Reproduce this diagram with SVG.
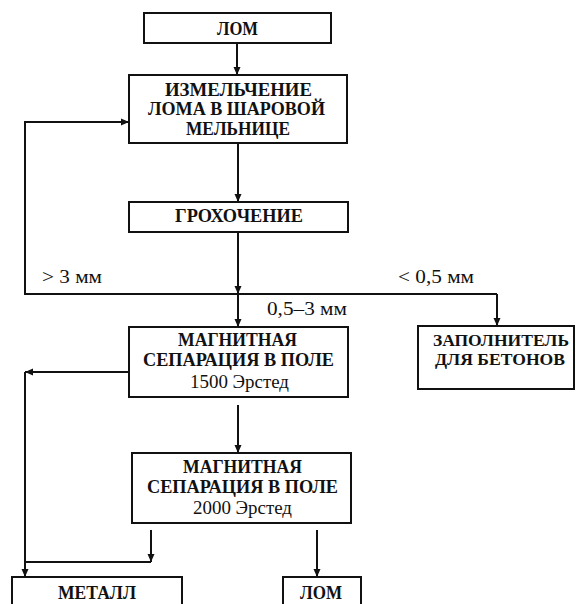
<svg xmlns="http://www.w3.org/2000/svg" width="576" height="604" viewBox="0 0 576 604">
<style>
.box{fill:#fff;stroke:#111;stroke-width:2}
.t{font-family:"Liberation Serif","Times New Roman",serif;font-size:19px;font-weight:bold;fill:#111;text-anchor:middle}
.n{font-weight:normal}
.s{font-size:17px}
.l{font-family:"Liberation Serif","Times New Roman",serif;font-size:19px;fill:#111}
.c{fill:none;stroke:#111;stroke-width:2}
</style>
<defs>
<marker id="ah" markerWidth="10" markerHeight="10" refX="9" refY="5" orient="auto" markerUnits="userSpaceOnUse">
<path d="M1,1.5 L9,5 L1,8.5 Z" fill="#111"/>
</marker>
</defs>
<rect width="576" height="604" fill="#fff"/>
<g id="connectors">
<path class="c" d="M237,43 V75" marker-end="url(#ah)"/>
<path class="c" d="M238,143 V202" marker-end="url(#ah)"/>
<path class="c" d="M238,232 V294" marker-end="url(#ah)"/>
<path class="c" d="M238,294 V327" marker-end="url(#ah)"/>
<path class="c" d="M497,294 H25 V122 H129" marker-end="url(#ah)"/>
<path class="c" d="M497,294 V326" marker-end="url(#ah)"/>
<path class="c" d="M238,405 V453" marker-end="url(#ah)"/>
<path class="c" d="M129,372 H25" marker-end="url(#ah)"/>
<path class="c" d="M25,372 V577" marker-end="url(#ah)"/>
<path class="c" d="M25,562 H151"/>
<path class="c" d="M151,530 V562" marker-end="url(#ah)"/>
<path class="c" d="M317,530 V577" marker-end="url(#ah)"/>
</g>
<g id="lom-top"><rect class="box" x="144" y="13" width="187" height="30"/><text class="t" x="237.5" y="35" textLength="41" lengthAdjust="spacingAndGlyphs">ЛОМ</text></g>
<g id="izmelchenie"><rect class="box" x="129" y="75" width="218" height="68"/>
<text class="t" x="238.5" y="96" textLength="147" lengthAdjust="spacingAndGlyphs">ИЗМЕЛЬЧЕНИЕ</text>
<text class="t" x="236.5" y="115" textLength="177" lengthAdjust="spacingAndGlyphs">ЛОМА В ШАРОВОЙ</text>
<text class="t" x="238" y="135" textLength="104" lengthAdjust="spacingAndGlyphs">МЕЛЬНИЦЕ</text></g>
<g id="grokhochenie"><rect class="box" x="129" y="202" width="219" height="30"/><text class="t" x="239" y="222" textLength="128" lengthAdjust="spacingAndGlyphs">ГРОХОЧЕНИЕ</text></g>
<g id="labels">
<text class="l" x="42" y="283" textLength="60" lengthAdjust="spacingAndGlyphs">&gt; 3 мм</text>
<text class="l" x="398" y="283" textLength="76" lengthAdjust="spacingAndGlyphs">&lt; 0,5 мм</text>
<text class="l" x="267" y="315" textLength="80" lengthAdjust="spacingAndGlyphs">0,5–3 мм</text>
</g>
<g id="mag1"><rect class="box" x="129" y="327" width="219" height="70"/>
<text class="t" x="237.5" y="346" textLength="119" lengthAdjust="spacingAndGlyphs">МАГНИТНАЯ</text>
<text class="t" x="238.5" y="366" textLength="191" lengthAdjust="spacingAndGlyphs">СЕПАРАЦИЯ В ПОЛЕ</text>
<text class="t n" x="239.5" y="388" textLength="99" lengthAdjust="spacingAndGlyphs">1500 Эрстед</text></g>
<g id="zapolnitel"><rect class="box" x="418" y="326" width="156" height="63"/>
<text class="t s" x="501" y="346" textLength="136" lengthAdjust="spacingAndGlyphs">ЗАПОЛНИТЕЛЬ</text>
<text class="t s" x="500" y="365" textLength="130" lengthAdjust="spacingAndGlyphs">ДЛЯ БЕТОНОВ</text></g>
<g id="mag2"><rect class="box" x="132" y="453" width="219" height="70"/>
<text class="t" x="242.5" y="473" textLength="119" lengthAdjust="spacingAndGlyphs">МАГНИТНАЯ</text>
<text class="t" x="242.5" y="493" textLength="191" lengthAdjust="spacingAndGlyphs">СЕПАРАЦИЯ В ПОЛЕ</text>
<text class="t n" x="242.5" y="514" textLength="99" lengthAdjust="spacingAndGlyphs">2000 Эрстед</text></g>
<g id="metall"><rect class="box" x="12" y="577" width="170" height="40"/><text class="t" x="97" y="599" textLength="78" lengthAdjust="spacingAndGlyphs">МЕТАЛЛ</text></g>
<g id="lom-bottom"><rect class="box" x="283" y="577" width="78" height="40"/><text class="t" x="321" y="599" textLength="42" lengthAdjust="spacingAndGlyphs">ЛОМ</text></g>
</svg>
